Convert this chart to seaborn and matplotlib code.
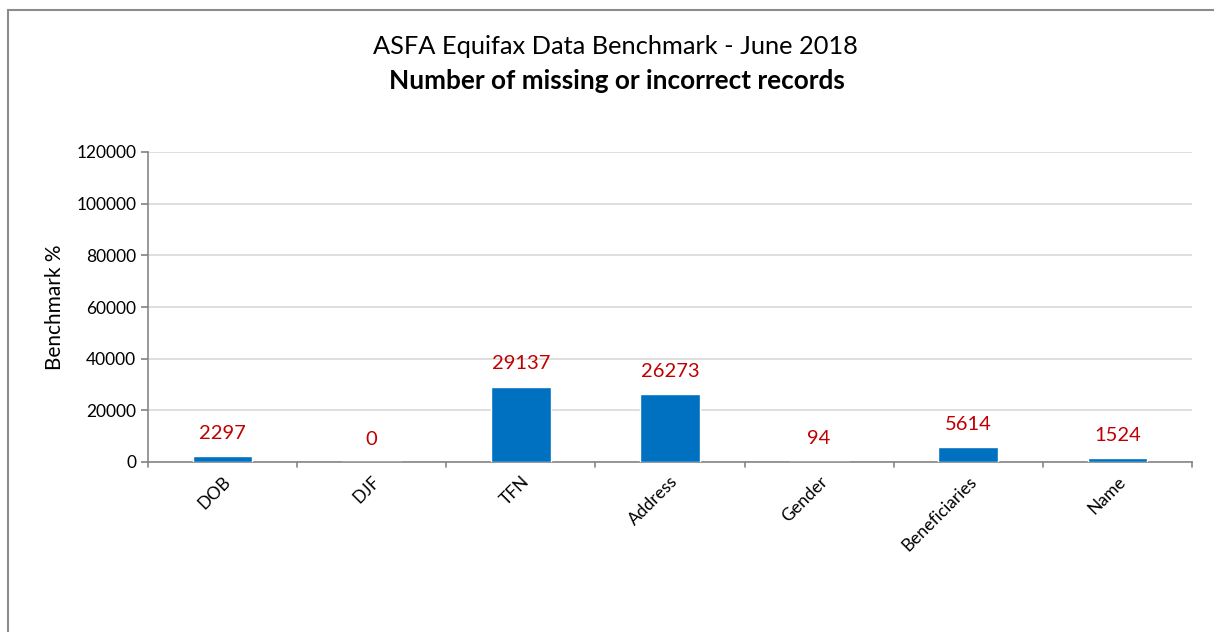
import matplotlib
matplotlib.use("Agg")
import matplotlib.pyplot as plt
import seaborn as sns
import pandas as pd
from matplotlib.patches import Rectangle

categories = ["DOB", "DJF", "TFN", "Address", "Gender", "Beneficiaries", "Name"]
values = [2297, 0, 29137, 26273, 94, 5614, 1524]
yticks = [0, 20000, 40000, 60000, 80000, 100000, 120000]

sns.set_theme(style="white")
plt.rcParams['font.family'] = ['Lato', 'DejaVu Sans']
plt.rcParams['text.color'] = 'black'
plt.rcParams['xtick.color'] = 'black'
plt.rcParams['ytick.color'] = 'black'

W, H = 1214, 632
fig = plt.figure(figsize=(W / 100, H / 100), dpi=100)
ax = fig.add_axes([148 / W, 1 - 462 / H, (1192 - 148) / W, (462 - 152) / H])

df = pd.DataFrame({"cat": categories, "val": values})
sns.barplot(data=df, x="cat", y="val", color="#0070C0", width=0.4,
            saturation=1, ax=ax, zorder=3)

ax.set_xlim(-0.5, len(categories) - 0.5)
ax.set_ylim(0, 120000)
ax.set_yticks(yticks)
ax.set_yticklabels([str(v) for v in yticks], fontsize=12.5, color="black")
ax.yaxis.grid(True, color="#D9D9D9", linewidth=1.2, zorder=0)
ax.xaxis.grid(False)

# Excel-style ticks at category boundaries
ax.set_xticks([i for i in range(len(categories))])
ax.set_xticklabels(categories, rotation=45, fontsize=12.5, ha="right",
                   rotation_mode="anchor", color="black")
ax.tick_params(axis="x", length=0, pad=8)
for b in range(len(categories) + 1):
    ax.plot([b - 0.5, b - 0.5], [0, -2000], color="#868686", lw=1.2,
            clip_on=False, zorder=4)
ax.tick_params(axis="y", length=5, color="#868686", left=True, direction="out")

for s in ["top", "right"]:
    ax.spines[s].set_visible(False)
for s in ["left", "bottom"]:
    ax.spines[s].set_color("#868686")
    ax.spines[s].set_linewidth(1.2)

ax.set_xlabel("")
ax.set_ylabel("Benchmark %", fontsize=15, labelpad=8, color="black")

for i, v in enumerate(values):
    ax.annotate(str(v), (i, v), xytext=(0, 16.5), textcoords="offset points",
                ha="center", va="center", color="#C00000", fontsize=14.5)

fig.text(615 / W, 1 - 46 / H, "ASFA Equifax Data Benchmark - June 2018",
         ha="center", va="center", fontsize=18.3, color="black")
fig.text(617 / W, 1 - 81 / H, "Number of missing or incorrect records",
         ha="center", va="center", fontsize=18.8, fontweight="bold",
         color="black")

fig.patches.append(Rectangle((8 / W, -0.05), 1.2, 1 - 10 / H + 0.05,
                             transform=fig.transFigure, fill=False,
                             edgecolor="#8C8C8C", linewidth=1.5))

fig.savefig("out.png", dpi=100)
